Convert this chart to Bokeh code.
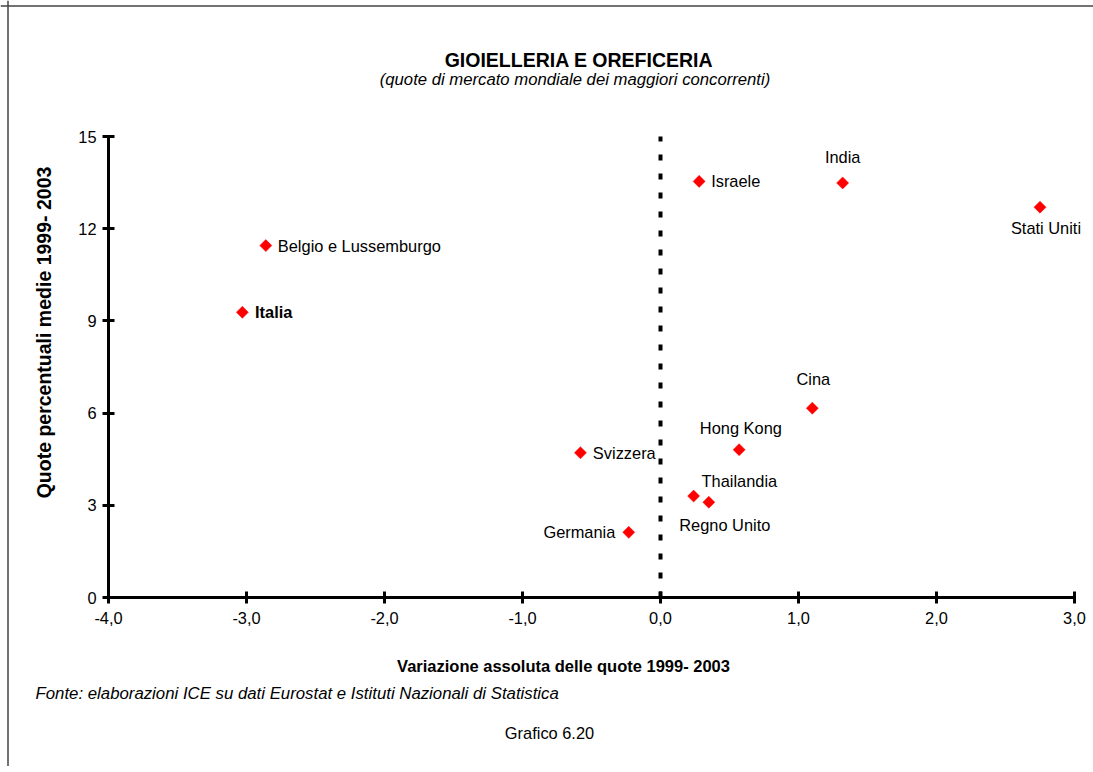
import math
from bokeh.plotting import figure
from bokeh.models import (ColumnDataSource, Label, Span, FixedTicker,
                          CustomJSTickFormatter, Range1d)
from bokeh.embed import file_html
from bokeh.resources import INLINE

# ---- data ----
paesi = ["Italia", "Belgio e Lussemburgo", "Svizzera", "Germania", "Israele",
         "India", "Stati Uniti", "Cina", "Hong Kong", "Thailandia", "Regno Unito"]
variazione = [-3.03, -2.86, -0.58, -0.23, 0.28, 1.32, 2.75, 1.10, 0.57, 0.24, 0.35]
quote = [9.28, 11.45, 4.71, 2.12, 13.54, 13.49, 12.70, 6.16, 4.81, 3.30, 3.10]

x_ticks = [-4, -3, -2, -1, 0, 1, 2, 3]
y_ticks = [0, 3, 6, 9, 12, 15]

title = "GIOIELLERIA E OREFICERIA"
subtitle = "(quote di mercato mondiale dei maggiori concorrenti)"
x_label = "Variazione assoluta delle quote 1999- 2003"
y_label = "Quote percentuali medie 1999- 2003"
fonte = "Fonte: elaborazioni ICE su dati Eurostat e Istituti Nazionali di Statistica"
grafico = "Grafico 6.20"

# ---- label placement (style) ----
label_style = {
    "Italia": ("left", 12.7, 0, "bold"),
    "Belgio e Lussemburgo": ("left", 12, 0, "normal"),
    "Svizzera": ("left", 12.4, 0, "normal"),
    "Germania": ("right", -13.4, 0, "normal"),
    "Israele": ("left", 12, 0, "normal"),
    "India": ("center", 0, -25.6, "normal"),
    "Stati Uniti": ("center", 6, 21, "normal"),
    "Cina": ("center", 1, -28.7, "normal"),
    "Hong Kong": ("center", 1.7, -21.6, "normal"),
    "Thailandia": ("center", 45.7, -15, "normal"),
    "Regno Unito": ("center", 16, 22.3, "normal"),
}

# ---- geometry ----
W, H = 1093, 766
PXX, PXY = 138.0, 30.733
X0PX, Y0PX = 108, 597   # canvas px of data (-4, 0)
x_start = -4 - X0PX / PXX
x_end = x_start + W / PXX
y_start = 0 - (H - Y0PX) / PXY
y_end = y_start + H / PXY

def dx(px):  # canvas x -> data x
    return x_start + px / PXX

def dy(py):  # canvas y (from top) -> data y
    return y_end - py / PXY

FONT = "Liberation Sans"
FS = "16.4px"

p = figure(width=W, height=H, output_backend="svg", toolbar_location=None,
           title=None, x_range=Range1d(x_start, x_end), y_range=Range1d(y_start, y_end),
           min_border=0, min_border_left=0, min_border_right=0,
           min_border_top=0, min_border_bottom=0)
p.outline_line_color = None
p.xgrid.visible = False
p.ygrid.visible = False
p.background_fill_color = "white"
p.border_fill_color = "white"

for ax in (p.xaxis[0], p.yaxis[0]):
    ax.axis_line_width = 3
    ax.axis_line_color = "black"
    ax.major_tick_line_width = 3
    ax.major_tick_line_color = "black"
    ax.major_tick_in = 6
    ax.major_tick_out = 6
    ax.minor_tick_line_color = None
    ax.major_label_text_font = FONT
    ax.major_label_text_font_size = FS
    ax.major_label_text_color = "black"

p.xaxis.fixed_location = 0
p.yaxis.fixed_location = -4
p.xaxis.bounds = (-4, 3)
p.yaxis.bounds = (0, 15)
p.xaxis.ticker = FixedTicker(ticks=x_ticks)
p.yaxis.ticker = FixedTicker(ticks=y_ticks)
p.xaxis.formatter = CustomJSTickFormatter(code="return tick.toFixed(1).replace('.', ',');")
p.xaxis.major_label_standoff = 8
p.yaxis.major_label_standoff = 6

# vertical dashed line at zero
p.segment(x0=[0], y0=[0], x1=[0], y1=[15], line_color="black", line_width=4,
          line_dash="6 13")

# points
src = ColumnDataSource(dict(
    x=variazione, y=quote, name=paesi,
    align=[label_style[n][0] for n in paesi],
    xo=[label_style[n][1] for n in paesi],
    yo=[label_style[n][2] for n in paesi],
    fs=[label_style[n][3] for n in paesi],
))
p.scatter("x", "y", source=src, marker="square", angle=math.pi / 4, size=8.5,
          fill_color="#ff0000", line_color="#ff0000", line_width=0.5)
p.text("x", "y", text="name", source=src, text_align="align", x_offset="xo",
       y_offset="yo", text_font_style="fs", text_baseline="middle",
       text_font={"value": FONT}, text_font_size={"value": FS}, text_color="black")

# border (left and top)
p.add_layout(Span(location=dx(7.5), dimension="height", line_color="#444444", line_width=1.5))
p.add_layout(Span(location=dy(5.5), dimension="width", line_color="#444444", line_width=1.5))

def lab(text, px, py, size=FS, style="normal", align="center", angle=0.0):
    p.add_layout(Label(x=dx(px), y=dy(py), text=text, text_font=FONT,
                       text_font_size=size, text_font_style=style, text_align=align,
                       text_baseline="middle", angle=angle, text_color="black"))

lab(title, 578.5, 59, size="19.5px", style="bold")
lab(subtitle, 574.5, 79, size="16.7px", style="italic")
lab(x_label, 563, 665, size="16.5px", style="bold")
lab(y_label, 43, 332, size="19.5px", style="bold", angle=math.pi / 2)
lab(fonte, 35, 693, size="16.8px", style="italic", align="left")
lab(grafico, 549, 732)

open("out.html", "w").write(file_html(p, INLINE))
